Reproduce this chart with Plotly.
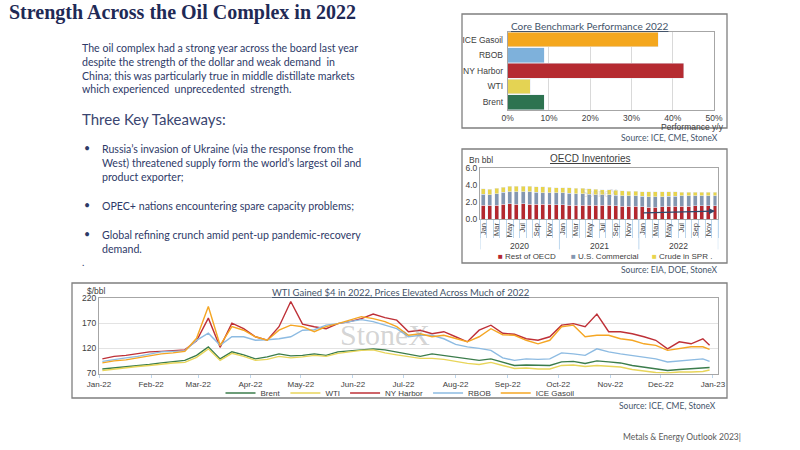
import pandas as pd
import plotly.graph_objects as go

# ---- Core benchmark performance 2022 (% y/y), top to bottom
bench_names = ["ICE Gasoil", "RBOB", "NY Harbor", "WTI", "Brent"]
bench_perf = [36.5, 8.9, 42.7, 5.5, 8.8]
bench_colors = ["#F4A71E", "#7EB1DB", "#B52B31", "#E4D353", "#2D7350"]

# ---- OECD inventories (bn bbl), Jan 2020 - Dec 2022
oecd_years = ["2020", "2021", "2022"]
oecd_month_labels = ["Jan", "Mar", "May", "Jul", "Sep", "Nov"]
rest_oecd = [1.65, 1.65, 1.65, 1.72, 1.78, 1.75, 1.78, 1.75, 1.75, 1.72, 1.72, 1.70,
             1.70, 1.65, 1.65, 1.62, 1.62, 1.65, 1.65, 1.60, 1.55, 1.52, 1.50, 1.48,
             1.45, 1.42, 1.42, 1.45, 1.50, 1.52, 1.52, 1.52, 1.55, 1.55, 1.55, 1.55]
us_commercial = [1.27, 1.25, 1.35, 1.44, 1.46, 1.49, 1.46, 1.45, 1.41, 1.40, 1.38, 1.38,
                 1.38, 1.37, 1.35, 1.36, 1.33, 1.25, 1.23, 1.25, 1.25, 1.26, 1.28, 1.27,
                 1.25, 1.23, 1.23, 1.21, 1.20, 1.20, 1.22, 1.23, 1.23, 1.23, 1.23, 1.23]
crude_spr = [0.64, 0.65, 0.65, 0.59, 0.61, 0.61, 0.63, 0.65, 0.64, 0.68, 0.67, 0.64,
             0.64, 0.66, 0.62, 0.64, 0.63, 0.62, 0.60, 0.60, 0.60, 0.57, 0.52, 0.53,
             0.55, 0.57, 0.55, 0.54, 0.50, 0.48, 0.44, 0.43, 0.40, 0.38, 0.38, 0.38]

# ---- 2022 prices ($/bbl), weekly
price_dates = list(pd.date_range("2022-01-03", periods=52, freq="7D")) + [pd.Timestamp("2022-12-30")]
brent = [79, 81, 84, 86, 88, 91, 93, 96, 106, 123, 99, 113, 107, 99, 103, 109, 105,
         106, 109, 106, 113, 115, 117, 119, 117, 113, 109, 104, 109, 106, 103, 99, 96, 99,
         92, 86, 87, 86, 86, 93, 94, 90, 95, 93, 91, 86, 83, 79, 76, 78, 79, 80, 82]
wti = [76, 79, 82, 84, 86, 89, 91, 92, 102, 119, 96, 110, 104, 96, 98, 104, 101,
       103, 106, 104, 110, 113, 116, 117, 111, 107, 104, 100, 100, 98, 94, 90, 88, 92,
       86, 80, 81, 79, 79, 86, 87, 84, 86, 84, 83, 78, 75, 72, 71, 73, 73, 74, 77]
ny_harbor = [99, 104, 106, 109, 113, 114, 116, 117, 135, 180, 122, 170, 159, 143, 136, 163, 213,
             168, 163, 159, 169, 173, 179, 188, 181, 176, 153, 156, 149, 153, 143, 133, 156, 166,
             150, 148, 139, 136, 143, 166, 169, 163, 188, 153, 153, 149, 143, 136, 119, 133, 129, 139, 126]
rbob = [94, 98, 101, 104, 109, 113, 114, 115, 136, 150, 126, 143, 143, 136, 137, 139, 143,
        156, 157, 166, 169, 173, 177, 173, 166, 159, 143, 146, 146, 139, 128, 123, 120, 116,
        101, 96, 99, 98, 99, 111, 109, 106, 119, 113, 109, 106, 103, 99, 93, 95, 96, 99, 94]
ice_gasoil = [91, 95, 97, 101, 106, 109, 111, 114, 140, 203, 126, 163, 156, 143, 136, 156, 166,
              163, 153, 163, 169, 176, 183, 179, 173, 163, 146, 149, 143, 146, 139, 133, 143, 159,
              147, 146, 136, 129, 136, 163, 166, 143, 146, 146, 139, 136, 129, 126, 116, 119, 123, 123, 118]
price_series = [("Brent", brent, "#3B7C4B"), ("WTI", wti, "#E8D55A"),
                ("NY Harbor", ny_harbor, "#BE3037"), ("RBOB", rbob, "#8DBBE2"),
                ("ICE Gasoil", ice_gasoil, "#F5A623")]
oecd_series = [("Rest of OECD", rest_oecd, "#B4282E"),
               ("U.S. Commercial", us_commercial, "#8497B0"),
               ("Crude in SPR .", crude_spr, "#E8D44D")]


def px(x):
    return x / 800


def py(y):
    return 1 - y / 450


NAVY = "#2E3A68"
AXIS = "#404040"
BORDER = "#A6A6A6"

fig = go.Figure()

fig.add_trace(go.Bar(x=bench_perf, y=bench_names, orientation="h", marker_color=bench_colors,
                     width=0.95, xaxis="x", yaxis="y", showlegend=False))

months = list(range(36))
for name, vals, col in oecd_series:
    fig.add_trace(go.Bar(x=months, y=vals, name=name, marker_color=col, width=0.6,
                         xaxis="x2", yaxis="y2", showlegend=False))

for name, vals, col in price_series:
    fig.add_trace(go.Scatter(x=price_dates, y=vals, name=name, mode="lines",
                             line=dict(color=col, width=1.4), xaxis="x3", yaxis="y3"))

tick_font = dict(family="Liberation Sans, Arial", size=8.5, color=AXIS)

fig.update_layout(
    width=800, height=450, margin=dict(l=0, r=0, t=0, b=0, autoexpand=False),
    paper_bgcolor="white", plot_bgcolor="white", barmode="stack",
    font=dict(family="Liberation Sans, Arial", color=AXIS),
    xaxis=dict(domain=[px(507.7), px(714)], range=[0, 50], dtick=10, ticksuffix="%",
               showgrid=True, gridcolor="#D9D9D9", zeroline=False, showline=True, mirror=True,
               linecolor=BORDER, tickfont=tick_font, anchor="y", automargin=False),
    yaxis=dict(domain=[py(110), py(31.7)], autorange="reversed", showline=True, mirror=True,
               linecolor=BORDER, tickfont=tick_font, anchor="x", ticklabelstandoff=2,
               automargin=False),
    xaxis2=dict(domain=[px(480), px(718.3)], range=[-0.5, 35.5], tickmode="array",
                tickvals=list(range(0, 36, 2)), ticktext=oecd_month_labels * 3, tickangle=-90,
                showline=True, mirror=True, linecolor=BORDER, tickfont=dict(size=7.5, color=AXIS),
                ticks="", anchor="y2", automargin=False,
                minor=dict(tickmode="linear", tick0=-0.5, dtick=1, ticks="outside",
                           ticklen=18, tickcolor="#BDD7EE", tickwidth=1)),
    yaxis2=dict(domain=[py(219), py(168.3)], range=[0, 6], dtick=2, tickformat=".1f",
                showgrid=False, zeroline=False, showline=True, mirror=True, linecolor=BORDER,
                tickfont=tick_font, anchor="x2", automargin=False),
    xaxis3=dict(domain=[px(99), px(718)], type="date", range=["2022-01-01", "2023-01-04"],
                tickvals=list(pd.date_range("2022-01-01", "2023-01-01", freq="MS")),
                tickformat="%b-%y", ticks="outside", ticklen=3, tickcolor="#BDD7EE",
                showline=True, mirror=True, linecolor=BORDER, anchor="y3", automargin=False,
                tickfont=dict(family="Liberation Sans, Arial", size=8, color=AXIS)),
    yaxis3=dict(domain=[py(373.5), py(298)], range=[70, 220], tickvals=[70, 120, 170, 220],
                showgrid=True, gridcolor="#E3E3E3", zeroline=False, showline=True, mirror=True,
                linecolor=BORDER, tickfont=tick_font, anchor="x3", automargin=False),
    legend=dict(orientation="h", x=px(400), xanchor="center", y=py(393), yanchor="middle",
                font=dict(size=8, color=AXIS), bgcolor="rgba(0,0,0,0)", itemwidth=30,
                traceorder="normal"),
)

shapes = []
for x0, y0, x1, y1 in [(462, 14, 727, 128), (462, 149, 727, 263), (72, 283, 727, 398)]:
    shapes.append(dict(type="rect", xref="paper", yref="paper", x0=px(x0), x1=px(x1),
                       y0=py(y1), y1=py(y0), line=dict(color="#7F7F7F", width=1.3)))
for b in [-0.5, 11.5, 23.5, 35.5]:
    shapes.append(dict(type="line", xref="x2", yref="y2 domain", x0=b, x1=b, y0=0, y1=-0.6,
                       line=dict(color="#BDD7EE", width=1)))
fig.update_layout(shapes=shapes)

ann = []


def text(x, y, s, size, color=NAVY, family="Lato", xanchor="left", yanchor="middle", **kw):
    ann.append(dict(x=px(x), y=py(y), xref="paper", yref="paper", text=s, showarrow=False,
                    xanchor=xanchor, yanchor=yanchor, align="left",
                    font=dict(family=family, size=size, color=color, **kw)))


text(7, 13, "<b>Strength Across the Oil Complex in 2022</b>", 20, color="#1F2A56",
     family="Liberation Serif")
text(80, 40, "The oil complex had a strong year across the board last year<br>"
     "despite the strength of the dollar and weak demand  in<br>"
     "China; this was particularly true in middle distillate markets<br>"
     "which experienced  unprecedented  strength.", 10.6, yanchor="top")
text(80, 119, "Three Key Takeaways:", 15, color="#3A4570")
for y, s in [(141, "Russia\u2019s invasion of Ukraine (via the response from the<br>"
                   "West) threatened supply form the world\u2019s largest oil and<br>product exporter;"),
             (198, "OPEC+ nations encountering spare capacity problems;"),
             (227, "Global refining crunch amid pent-up pandemic-recovery<br>demand.")]:
    text(82, y + 7, "\u2022", 10.6)
    text(100, y, s, 10.6, yanchor="top")
text(80, 262, ".", 10)

text(509, 25.7, "Core Benchmark Performance 2022", 10, color="#44546A", lineposition="under")
text(726, 127, "Performance y/y", 8.5, color=AXIS, family="Liberation Sans", xanchor="right")
text(720, 138, "Source: ICE, CME, StoneX", 8.5, color="#44546A", xanchor="right")

text(590, 158, "OECD Inventories", 10, color=AXIS, family="Liberation Sans",
     xanchor="center", lineposition="under")
text(467, 160, "Bn bbl", 8.5, color=AXIS, family="Liberation Sans")
text(720, 270, "Source: EIA, DOE, StoneX", 8.5, color="#44546A", xanchor="right")
text(600, 193, "StoneX", 12, color="rgba(170,170,170,0.35)", family="Liberation Serif",
     xanchor="center")

# compact legend for the inventory bars (square key right next to its label)
for lx, (name, _, col) in zip([496, 569, 650], oecd_series):
    text(lx, 256, f'<span style="color:{col}">\u25A0</span> {name}', 8, color=AXIS,
         family="Liberation Sans")

text(400, 292, "WTI Gained $4 in 2022, Prices Elevated Across Much of 2022", 9.5,
     color="#44546A", xanchor="center", lineposition="under")
text(85, 291, "$/bbl", 8.5, color=AXIS, family="Liberation Sans")
text(385, 334, "StoneX", 30, color="rgba(160,160,160,0.45)", family="Liberation Serif",
     xanchor="center")
text(718, 406, "Source: ICE, CME, StoneX", 8.5, color="#44546A", xanchor="right")
text(743, 437, "Metals &amp; Energy Outlook 2023|", 8.5, color="#595959", xanchor="right")

for i, yr in enumerate(oecd_years):
    ann.append(dict(x=5.5 + 12 * i, y=py(245.5), xref="x2", yref="paper", text=yr,
                    showarrow=False, font=dict(size=8.5, color=AXIS)))

ann.append(dict(x=px(715), y=py(211), xref="paper", yref="paper", ax=-73, ay=2,
                showarrow=True, arrowhead=2, arrowsize=1, arrowwidth=1.2,
                arrowcolor="#2F4A6B", text=""))

fig.update_layout(annotations=ann)

# drop the browser's default body margin so the figure sits at the page corner
fig.write_html("out.html", config={"displayModeBar": False},
               post_script="document.body.style.margin='0';")
